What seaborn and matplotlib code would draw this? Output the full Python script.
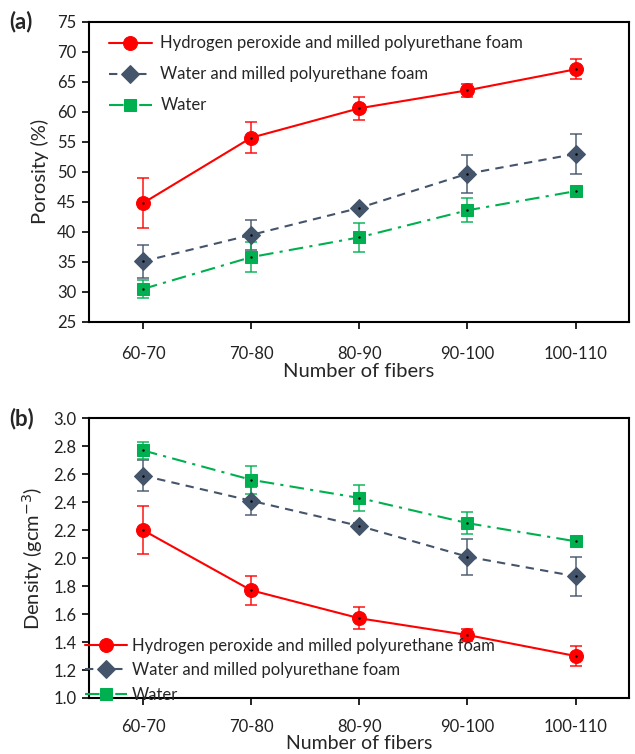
import numpy as np
import pandas as pd
import matplotlib
matplotlib.use("Agg")
import matplotlib.pyplot as plt
import seaborn as sns

categories = ["60-70", "70-80", "80-90", "90-100", "100-110"]
series_names = ["Hydrogen peroxide and milled polyurethane foam",
                "Water and milled polyurethane foam",
                "Water"]

por_h2o2 = [44.8, 55.7, 60.6, 63.6, 67.1]
por_h2o2_err = [4.2, 2.6, 1.9, 1.1, 1.7]
por_water_pu = [35.1, 39.5, 44.0, 49.7, 53.0]
por_water_pu_err = [2.7, 2.5, 0.3, 3.2, 3.4]
por_water = [30.5, 35.8, 39.1, 43.6, 46.8]
por_water_err = [1.5, 2.5, 2.4, 2.0, 0.5]

den_h2o2 = [2.20, 1.77, 1.57, 1.45, 1.30]
den_h2o2_err = [0.17, 0.105, 0.08, 0.045, 0.07]
den_water_pu = [2.59, 2.41, 2.23, 2.01, 1.87]
den_water_pu_err = [0.11, 0.10, 0.02, 0.13, 0.14]
den_water = [2.77, 2.56, 2.43, 2.25, 2.12]
den_water_err = [0.06, 0.10, 0.09, 0.08, 0.02]

colors = ["#FF0000", "#44546A", "#00B050"]
markers = ["o", "D", "s"]
linestyles = ["-", (0, (4, 3)), (0, (7, 3, 1.5, 3))]
msizes = [10, 9, 9]

sns.set_style("white")
plt.rcParams['font.family'] = ['Lato', 'DejaVu Sans']

fig = plt.figure(figsize=(6.35, 7.54), dpi=100)
ax1 = fig.add_axes([0.140, 0.573, 0.850, 0.398])
ax2 = fig.add_axes([0.140, 0.0743, 0.850, 0.371])


def draw(ax, vals, errs, xpad):
    x = np.arange(len(categories))
    for i, (v, e) in enumerate(zip(vals, errs)):
        df = pd.DataFrame({"x": x, "y": v})
        sns.lineplot(data=df, x="x", y="y", ax=ax, color=colors[i],
                     marker=markers[i], markersize=msizes[i], linewidth=1.5,
                     linestyle=linestyles[i], markeredgecolor=colors[i],
                     label=series_names[i], zorder=3)
        ax.errorbar(x, v, yerr=e, fmt="none", ecolor=colors[i], elinewidth=1.2,
                    capsize=4, capthick=1.2, zorder=2, alpha=0.85)
        ax.plot(x, v, linestyle="none", marker=".", markersize=1.5, color="black", zorder=4)
    ax.set_xlim(-0.5, 4.49)
    ax.set_xticks(x)
    ax.set_xticklabels(categories)
    for s in ax.spines.values():
        s.set_color("black")
        s.set_linewidth(1.5)
    ax.tick_params(axis="both", direction="out", length=5, width=1.2, color="black",
                   labelsize=12, labelcolor="#222222", left=True, bottom=True, pad=4)
    ax.tick_params(axis="x", pad=xpad)


draw(ax1, [por_h2o2, por_water_pu, por_water], [por_h2o2_err, por_water_pu_err, por_water_err], 12)
ax1.set_ylim(25, 75)
ax1.set_yticks(np.arange(25, 76, 5))
ax1.set_ylabel("Porosity (%)", fontsize=14.5, labelpad=6)
ax1.set_xlabel("Number of fibers", fontsize=14.5, labelpad=1)
leg1 = ax1.legend(loc="upper left", bbox_to_anchor=(0.009, 1.005), frameon=False,
                  fontsize=12, handlelength=2.6, labelspacing=0.9, handletextpad=0.5)

draw(ax2, [den_h2o2, den_water_pu, den_water], [den_h2o2_err, den_water_pu_err, den_water_err], 10)
ax2.set_ylim(1.0, 3.0)
ax2.set_yticks(np.arange(1.0, 3.01, 0.2))
ax2.set_yticklabels([f"{t:.1f}" for t in np.arange(1.0, 3.01, 0.2)])
ax2.set_ylabel("Density (gcm$^{-3}$)", fontsize=14.5, labelpad=6)
ax2.set_xlabel("Number of fibers", fontsize=14, labelpad=0)
leg2 = ax2.legend(loc="lower left", bbox_to_anchor=(-0.035, -0.07), frameon=False,
                  fontsize=12, handlelength=2.5, labelspacing=0.5, handletextpad=0.3)

fig.text(0.015, 0.971, "(a)", fontsize=16, fontweight="bold", va="center")
fig.text(0.015, 0.445, "(b)", fontsize=16, fontweight="bold", va="center")

fig.savefig("out.png", dpi=100)
